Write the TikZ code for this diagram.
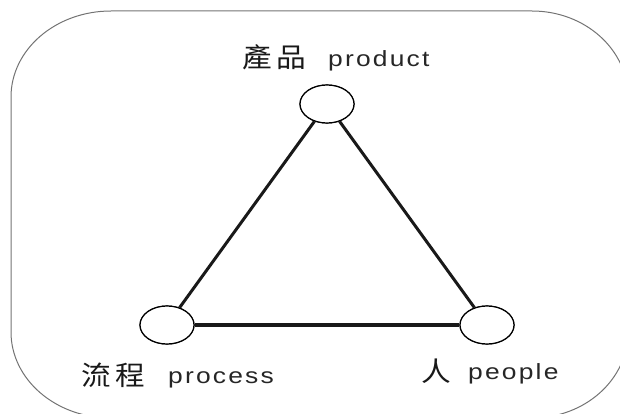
\documentclass[tikz,border=0pt]{standalone}
\usepackage{fontspec}
\setmainfont{Liberation Sans}
\newfontfamily\latinlbl{Liberation Sans}[FakeStretch=1.2,LetterSpace=10]
\newfontfamily\cjk{Noto Sans CJK TC}[FakeStretch=1.1]
\usetikzlibrary{shapes.geometric}
\begin{document}
\begin{tikzpicture}[x=1pt,y=-1pt,
  vertex/.style={ellipse,draw=black,line width=1.2pt,fill=white,minimum width=54pt,minimum height=38pt,inner sep=0pt},
  link/.style={line width=3pt,draw=black!90},
  cjklbl/.style={anchor=base west,inner sep=0pt,font=\cjk\fontsize{27}{30}\selectfont,text=black!90},
  latlbl/.style={anchor=base west,inner sep=0pt,font=\latinlbl\fontsize{22}{26}\selectfont,text=black!85},
  frame/.style={draw=black!55,line width=1pt}]
\useasboundingbox (0,0) rectangle (620,414);
\clip (0,0) rectangle (620,414);
% outer rounded frame
\draw[frame] (111,11) -- (532,11)
  arc[start angle=-90,end angle=0,x radius=96,y radius=86] -- (628,332)
  arc[start angle=0,end angle=90,x radius=96,y radius=86] -- (111,418)
  arc[start angle=90,end angle=180,x radius=100,y radius=86] -- (11,97)
  arc[start angle=180,end angle=270,x radius=100,y radius=86] -- cycle;
% vertices
\node[vertex] (top) at (327,104) {};
\node[vertex] (left) at (167,325) {};
\node[vertex] (right) at (487,325) {};
% connectors
\draw[link] (top) -- (left);
\draw[link] (top) -- (right);
\draw[link,line width=4pt] (left) -- (right);
% redraw vertices above the connectors
\node[vertex] at (top) {};
\node[vertex] at (left) {};
\node[vertex] at (right) {};
% labels
\node[cjklbl] (ctop) at (242,68) {產\hspace{5pt}品};
\node[latlbl] (etop) at (328,67) {product};
\node[cjklbl] (cleft) at (81,385) {流\hspace{5pt}程};
\node[latlbl] (eleft) at (168,383) {process};
\node[cjklbl] (cright) at (421,381) {人};
\node[latlbl] (eright) at (468,379) {people};
\end{tikzpicture}
\end{document}
